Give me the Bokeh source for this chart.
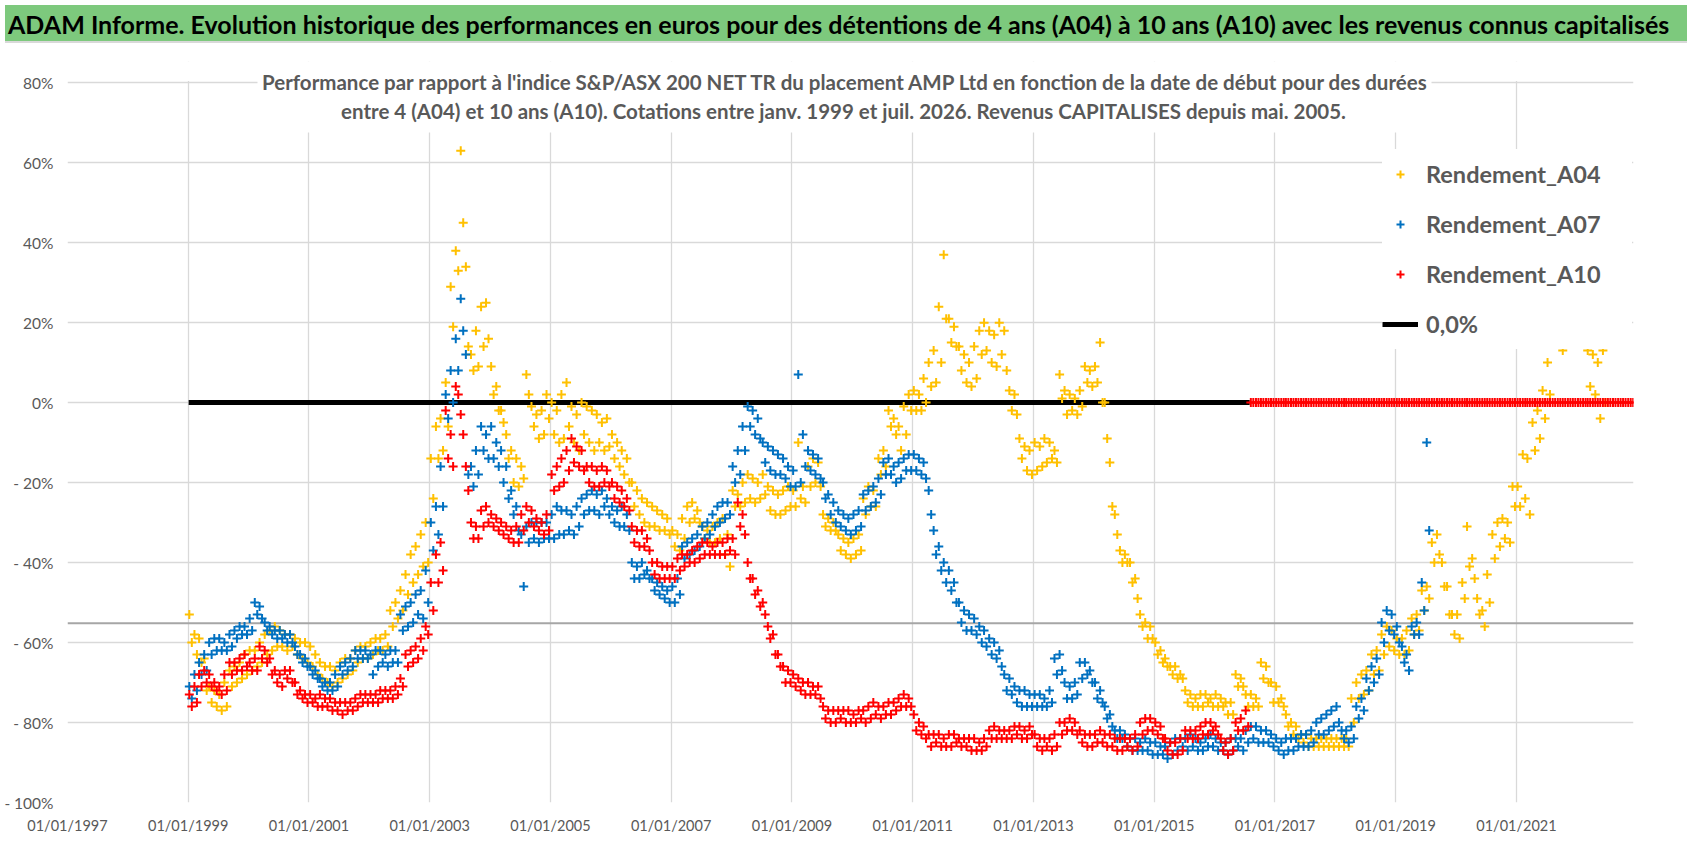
import numpy as np
import pandas as pd
from bokeh.plotting import figure
from bokeh.layouts import column
from bokeh.models import (ColumnDataSource, Range1d, FixedTicker, DatetimeTickFormatter,
                          CustomJSTickFormatter, Legend, LegendItem, Label, BoxAnnotation,
                          Span, Div)
from bokeh.embed import file_html
from bokeh.resources import INLINE

nan = float("nan")

TITLE = ("ADAM Informe. Evolution historique des performances en euros pour des détentions "
         "de 4 ans (A04) à 10 ans (A10) avec les revenus connus capitalisés")
SUBTITLE_1 = ("Performance par rapport à l'indice S&P/ASX 200 NET TR  du placement AMP Ltd "
              "en fonction de la date de début pour des durées")
SUBTITLE_2 = ("entre 4 (A04) et 10 ans (A10).  Cotations entre janv. 1999 et juil. 2026. "
              "Revenus CAPITALISES  depuis mai. 2005.")

# monthly readings of the clouds (upper edge / lower edge), in %
A04_START = "1999-01-01"
a04_hi = [
    -53, -58, -59, -64, -71, -72, -73, -70, -67, -66, -65, -63,   # 1999
    -62, -62, -60, -58, -57, -56, -57, -58, -58, -59, -60, -60,   # 2000
    -61, -63, -65, -66, -66, -67, -65, -64, -64, -62, -61, -61,   # 2001
    -60, -59, -59, -58, -52, -50, -47, -43, -38, -36, -33, -30,   # 2002
    -14, -6, -4, 5, 29, 38, 63, 34, 12, 18, 24, 25,               # 2003
    9, 4, -2, -8, -12, -14, -16, 7, -1, -3, -2, 2,                # 2004
    0, -2, 2, 5, -1, -3, 0, -1, -2, -3, -5, -4,                   # 2005
    -8, -10, -12, -14, -20, -22, -24, -25, -26, -27, -28, -29,    # 2006
    -32, -33, -29, -26, -25, -27, -31, -32, -31, -30, -29, -33,   # 2007
    -22, -23, -20, -18, -19, -20, -18, -21, -22, -23, -22, -21,   # 2008
    -22, -10, -21, -16, -14, -15, -28, -29, -30, -33, -34, -35,   # 2009
    -34, -33, -24, -21, -22, -14, -12, -2, -4, -6, -1, 2,         # 2010
    3, 2, 6, 10, 13, 24, 37, 21, 19, 14, 12, 10,                  # 2011
    14, 18, 20, 18, 17, 20, 18, 3, 2, -9, -11, -12,               # 2012
    -10, -11, -9, -10, -12, 7, 3, 2, 1, 3, 9, 8,                  # 2013
    9, 15, 0, -15, -28, -37, -38, -40, -44, -53, -55, -56,        # 2014
    -60, -62, -64, -66, -66, -68, -72, -73, -74, -73, -73, -74,   # 2015
    -73, -74, -75, -75, -68, -69, -73, -73, -74, -65, -66, -70,   # 2016
    -71, -74, -78, -80, -81, -83, -83, -84, -84, -84, -84, -84,   # 2017
    -84, -84, -84, -74, -70, -68, -67, -63, -62, -58, -56, -57,   # 2018
    -59, -59, -57, -54, -53, -47, -46, -35, -33, -40, -46, -53,   # 2019
    -53, -45, -31, -39, -49, -52, -43, -33, -30, -29, -30, -21,   # 2020
    -21, -13, -14, -5, -2, 3, 10, nan, nan, 13, nan, nan,         # 2021
    nan, nan, 13, 12, 10, 13,                                     # 2022
]
a04_lo = [
    -60, -63, -65, -72, -75, -76, -77, -76, -71, -70, -69, -68,   # 1999
    -67, -66, -65, -63, -62, -61, -61, -62, -61, -63, -64, -65,   # 2000
    -66, -68, -69, -70, -71, -70, -69, -68, -67, -65, -64, -64,   # 2001
    -63, -62, -62, -61, -56, -54, -52, -48, -45, -43, -41, -40,   # 2002
    -24, -14, -12, -6, 19, 33, 45, 14, 8, 9, 14, 16,              # 2003
    2, -2, -5, -14, -20, -21, -19, 2, -6, -9, -8, -4,             # 2004
    -8, -10, -9, -6, -10, -12, -8, -10, -12, -10, -12, -11,       # 2005
    -14, -16, -18, -20, -26, -28, -30, -31, -31, -32, -32, -33,   # 2006
    -36, -37, -34, -30, -29, -30, -34, -35, -35, -34, -38, -41,   # 2007
    -26, -26, -25, -24, -25, -24, -23, -27, -28, -28, -27, -26,   # 2008
    -26, -24, -25, -21, -20, -21, -31, -32, -32, -37, -38, -39,   # 2009
    -38, -37, -28, -26, -26, -18, -16, -6, -8, -12, -8, -2,       # 2010
    -2, -2, 0, 4, 5, 10, 21, 15, 14, 8, 5, 4,                     # 2011
    6, 12, 13, 10, 9, 12, 8, -2, -3, -14, -17, -18,               # 2012
    -17, -16, -15, -14, -15, 1, -3, -2, -3, -1, 5, 4,             # 2013
    5, 0, -9, -26, -33, -40, -40, -45, -49, -56, -59, -59,        # 2014
    -63, -65, -66, -68, -69, -69, -75, -76, -76, -76, -75, -76,   # 2015
    -76, -76, -78, -78, -71, -71, -76, -76, -76, -69, -70, -75,   # 2016
    -75, -76, -81, -83, -84, -85, -86, -86, -86, -86, -86, -86,   # 2017
    -86, -86, -86, -80, -74, -73, -72, -68, -67, -63, -61, -62,   # 2018
    -63, -63, -62, -58, -57, -52, -49, -40, -38, -46, -53, -58,   # 2019
    -59, -49, -41, -44, -53, -56, -50, -39, -36, -34, -35, -26,   # 2020
    -26, -24, -28, -12, -9, -4, 2, nan, nan, nan, nan, nan,       # 2021
    nan, nan, 4, 2, -4, 0,                                        # 2022
]

A07_START = "1999-01-01"
a07_hi = [
    -71, -68, -65, -63, -60, -59, -59, -60, -58, -57, -56, -56,   # 1999
    -54, -50, -51, -55, -56, -57, -57, -58, -58, -61, -63, -64,   # 2000
    -66, -67, -69, -70, -70, -68, -66, -65, -64, -62, -62, -62,   # 2001
    -63, -62, -62, -63, -62, -62, -53, -51, -50, -48, -47, -42,   # 2002
    -30, -26, -16, 2, 8, 16, 26, 12, -16, -12, -6, -8,            # 2003
    -6, -10, -12, -16, -22, -26, -33, -31, -30, -30, -30, -30,    # 2004
    -28, -26, -27, -27, -28, -26, -24, -23, -22, -23, -22, -24,   # 2005
    -26, -27, -26, -28, -40, -41, -40, -42, -44, -45, -46, -47,   # 2006
    -46, -44, -36, -35, -34, -33, -31, -30, -28, -26, -25, -25,   # 2007
    -16, -12, -6, -1, -2, -4, -10, -11, -12, -13, -14, -16,       # 2008
    -17, 7, -8, -12, -13, -14, -20, -23, -25, -27, -28, -29,      # 2009
    -28, -27, -23, -22, -21, -19, -15, -14, -16, -15, -14, -13,   # 2010
    -13, -14, -15, -22, -32, -36, -40, -42, -45, -50, -52, -53,   # 2011
    -54, -56, -57, -59, -60, -62, -68, -69, -71, -72, -72, -73,   # 2012
    -73, -73, -74, -72, -64, -63, -70, -71, -70, -65, -65, -67,   # 2013
    -70, -72, -76, -78, -82, -82, -83, -84, -84, -85, -84, -85,   # 2014
    -85, -86, -86, -85, -84, -84, -84, -83, -84, -85, -84, -83,   # 2015
    -84, -85, -85, -84, -84, -84, -82, -81, -81, -82, -82, -83,   # 2016
    -84, -85, -84, -84, -84, -83, -83, -82, -80, -79, -78, -77,   # 2017
    -76, -82, -82, -81, -76, -74, -69, -66, -64, -55, -52, -53,   # 2018
    -56, -61, -63, -56, -55, -45, -10,                            # 2019
]
a07_lo = [
    -74, -72, -68, -67, -63, -62, -62, -62, -61, -59, -58, -58,   # 1999
    -57, -53, -54, -57, -58, -59, -59, -60, -60, -63, -65, -66,   # 2000
    -68, -69, -71, -72, -72, -71, -68, -67, -66, -64, -64, -64,   # 2001
    -68, -66, -65, -66, -65, -65, -57, -56, -55, -53, -54, -50,   # 2002
    -37, -33, -26, -4, 0, 8, 18, -18, -21, -18, -12, -14,         # 2003
    -14, -16, -20, -24, -28, -32, -46, -35, -34, -35, -34, -34,   # 2004
    -34, -33, -33, -32, -33, -31, -28, -27, -27, -28, -26, -28,   # 2005
    -30, -31, -31, -32, -44, -44, -43, -44, -47, -48, -49, -50,   # 2006
    -50, -48, -39, -38, -37, -36, -34, -33, -31, -30, -29, -28,   # 2007
    -20, -18, -12, -6, -8, -9, -15, -17, -18, -18, -19, -21,      # 2008
    -21, -20, -16, -17, -18, -19, -24, -28, -30, -31, -32, -33,   # 2009
    -32, -31, -27, -26, -25, -23, -18, -18, -20, -19, -17, -17,   # 2010
    -17, -18, -19, -28, -38, -42, -45, -47, -50, -55, -57, -57,   # 2011
    -58, -60, -61, -63, -64, -66, -72, -73, -75, -76, -76, -76,   # 2012
    -76, -76, -76, -75, -68, -67, -74, -74, -73, -69, -68, -70,   # 2013
    -74, -75, -79, -81, -84, -84, -86, -87, -87, -87, -87, -88,   # 2014
    -88, -88, -89, -88, -87, -86, -87, -86, -87, -87, -86, -86,   # 2015
    -87, -87, -88, -87, -86, -87, -85, -84, -85, -85, -85, -86,   # 2016
    -87, -88, -87, -87, -86, -86, -86, -85, -83, -83, -82, -81,   # 2017
    -80, -84, -85, -84, -79, -77, -72, -70, -68, -60, -57, -58,   # 2018
    -60, -65, -67, -58, -58, -52, -32,                            # 2019
]

A10_START = "1999-01-01"
a10_hi = [
    -73, -71, -68, -67, -68, -70, -71, -68, -65, -65, -64, -63,   # 1999
    -65, -64, -61, -62, -64, -67, -68, -67, -67, -70, -72, -73,   # 2000
    -73, -74, -73, -74, -74, -75, -75, -75, -75, -74, -73, -73,   # 2001
    -73, -73, -72, -72, -72, -71, -69, -63, -62, -61, -59, -56,   # 2002
    -45, -38, -35, -2, -8, 4, -3, -16, -30, -31, -27, -26,        # 2003
    -28, -29, -30, -31, -32, -31, -28, -26, -27, -29, -30, -28,   # 2004
    -18, -16, -14, -12, -9, -11, -12, -16, -16, -17, -16, -17,    # 2005
    -20, -21, -22, -24, -31, -32, -32, -34, -40, -40, -41, -41,   # 2006
    -41, -39, -38, -38, -37, -36, -35, -35, -36, -35, -35, -34,   # 2007
    -34, -25, -28, -40, -44, -47, -50, -56, -58, -63, -66, -67,   # 2008
    -68, -69, -70, -70, -71, -71, -76, -77, -77, -77, -77, -77,   # 2009
    -78, -77, -77, -76, -75, -76, -76, -75, -75, -74, -73, -74,   # 2010
    -78, -80, -81, -83, -83, -83, -84, -83, -83, -84, -84, -84,   # 2011
    -84, -85, -84, -82, -81, -82, -82, -82, -81, -81, -82, -81,   # 2012
    -83, -84, -84, -84, -83, -80, -80, -79, -80, -82, -83, -83,   # 2013
    -83, -82, -83, -83, -84, -84, -84, -84, -83, -80, -79, -79,   # 2014
    -80, -81, -84, -85, -85, -84, -82, -82, -82, -81, -80, -80,   # 2015
    -81, -84, -85, -84, -80, -79, -77, 0, 0, 0, 0, 0,             # 2016
    0, 0, 0, 0, 0, 0, 0, 0, 0, 0, 0, 0,                           # 2017
    0, 0, 0, 0, 0, 0, 0, 0, 0, 0, 0, 0,                           # 2018
    0, 0, 0, 0, 0, 0, 0, 0, 0, 0, 0, 0,                           # 2019
    0, 0, 0, 0, 0, 0, 0, 0, 0, 0, 0, 0,                           # 2020
    0, 0, 0, 0, 0, 0, 0, 0, 0, 0, 0, 0,                           # 2021
    0, 0, 0, 0, 0, 0, 0, 0, 0, 0, 0, 0,                           # 2022
]
a10_lo = [
    -76, -75, -71, -70, -71, -72, -73, -72, -68, -67, -67, -66,   # 1999
    -67, -67, -64, -65, -68, -70, -71, -69, -70, -73, -74, -75,   # 2000
    -75, -76, -76, -76, -77, -77, -78, -77, -77, -76, -75, -75,   # 2001
    -75, -75, -74, -74, -74, -73, -71, -66, -65, -64, -62, -58,   # 2002
    -52, -45, -42, -14, -16, 2, -8, -22, -34, -34, -31, -30,      # 2003
    -31, -32, -33, -34, -35, -35, -32, -30, -31, -32, -33, -32,   # 2004
    -22, -21, -20, -17, -15, -16, -17, -20, -21, -21, -20, -21,   # 2005
    -24, -25, -26, -27, -35, -36, -36, -37, -43, -44, -44, -44,   # 2006
    -44, -42, -41, -40, -40, -39, -38, -38, -38, -38, -38, -37,   # 2007
    -38, -31, -33, -44, -48, -51, -53, -59, -63, -66, -70, -70,   # 2008
    -71, -72, -73, -73, -73, -74, -79, -80, -80, -79, -80, -80,   # 2009
    -80, -79, -80, -79, -78, -79, -78, -78, -77, -76, -76, -76,   # 2010
    -82, -83, -84, -86, -85, -86, -86, -86, -85, -86, -86, -87,   # 2011
    -87, -87, -86, -84, -84, -84, -84, -84, -83, -84, -84, -83,   # 2012
    -86, -87, -86, -87, -86, -83, -82, -82, -83, -85, -86, -86,   # 2013
    -85, -85, -86, -86, -87, -87, -86, -87, -86, -83, -82, -82,   # 2014
    -83, -84, -87, -88, -88, -87, -84, -84, -84, -83, -83, -82,   # 2015
    -83, -87, -88, -87, -82, -82, -81, 0, 0, 0, 0, 0,             # 2016
    0, 0, 0, 0, 0, 0, 0, 0, 0, 0, 0, 0,                           # 2017
    0, 0, 0, 0, 0, 0, 0, 0, 0, 0, 0, 0,                           # 2018
    0, 0, 0, 0, 0, 0, 0, 0, 0, 0, 0, 0,                           # 2019
    0, 0, 0, 0, 0, 0, 0, 0, 0, 0, 0, 0,                           # 2020
    0, 0, 0, 0, 0, 0, 0, 0, 0, 0, 0, 0,                           # 2021
    0, 0, 0, 0, 0, 0, 0, 0, 0, 0, 0, 0,                           # 2022
]

# the "0,0%" series (black line)
zero_dates = ["1999-01-04", "2016-08-01"]
zero_vals = [0.0, 0.0]

Y_TICKS = [-100, -80, -60, -40, -20, 0, 20, 40, 60, 80]
X_TICK_YEARS = [1997, 1999, 2001, 2003, 2005, 2007, 2009, 2011, 2013, 2015, 2017, 2019, 2021]
X_START, X_END = "1997-01-01", "2022-12-10"
Y_MIN, Y_MAX, Y_TOP = -100, 80, 85.3     # Y_TOP leaves room for the chart title
ARTIFACT_LEVEL = -55.2

YELLOW, BLUE, RED = "#FFC000", "#0070C0", "#FF0000"
GREY_TXT = "#595959"
FONT = "Lato"


def cloud(start, hi, lo):
    months = pd.date_range(start, periods=len(hi), freq="MS")
    x = np.concatenate([(months + pd.Timedelta(days=7)).values,
                        (months + pd.Timedelta(days=22)).values])
    y = np.array(list(hi) + list(lo), dtype=float)
    return ColumnDataSource(data=dict(x=x, y=y))


src04 = cloud(A04_START, a04_hi, a04_lo)
src07 = cloud(A07_START, a07_hi, a07_lo)
src10 = cloud(A10_START, a10_hi, a10_lo)
src0 = ColumnDataSource(data=dict(x=pd.to_datetime(zero_dates).values, y=zero_vals))

W, H = 1682, 794
BL, BR, BT, BB = 67, 49, 13, 40
p = figure(width=W, height=H, x_axis_type="datetime",
           x_range=Range1d(pd.Timestamp(X_START), pd.Timestamp(X_END)),
           y_range=Range1d(Y_MIN, Y_TOP),
           output_backend="svg", toolbar_location=None,
           min_border_left=BL, min_border_right=BR, min_border_top=BT, min_border_bottom=BB,
           background_fill_color="white", border_fill_color="white", outline_line_color=None)

# axes
p.xaxis.ticker = FixedTicker(ticks=[pd.Timestamp(f"{y}-01-01").value // 10**6 for y in X_TICK_YEARS])
fmt = "%d/%m/%Y"
p.xaxis.formatter = DatetimeTickFormatter(years=fmt, months=fmt, days=fmt, hours=fmt,
                                          minutes=fmt, seconds=fmt, milliseconds=fmt)
p.yaxis.ticker = FixedTicker(ticks=Y_TICKS)
p.yaxis.formatter = CustomJSTickFormatter(
    code="return tick < 0 ? '- ' + Math.abs(tick) + '%' : tick + '%'")
for ax in (p.xaxis, p.yaxis):
    ax.axis_line_color = None
    ax.major_tick_line_color = None
    ax.minor_tick_line_color = None
    ax.major_tick_out = 0
    ax.major_tick_in = 0
    ax.major_label_text_color = GREY_TXT
    ax.major_label_text_font = FONT
p.xaxis.major_label_text_font_size = "14.5px"
p.yaxis.major_label_text_font_size = "15.5px"
p.xaxis.major_label_standoff = 14
p.yaxis.major_label_standoff = 14
p.xgrid.grid_line_color = "#d9d9d9"
p.ygrid.grid_line_color = "#d9d9d9"
p.xgrid.grid_line_width = 1.3
p.ygrid.grid_line_width = 1.3

p.add_layout(Span(location=ARTIFACT_LEVEL, dimension="width", line_color="#a6a6a6",
                  line_width=2, level="underlay"))

# series
r0 = p.line("x", "y", source=src0, line_color="black", line_width=5)
r04 = p.scatter("x", "y", source=src04, marker="cross", size=9, line_color=YELLOW, line_width=2)
r07 = p.scatter("x", "y", source=src07, marker="cross", size=9, line_color=BLUE, line_width=2)
r10 = p.scatter("x", "y", source=src10, marker="cross", size=9, line_color=RED, line_width=2)

# hide the grid above the 80% line, then the chart title box
frame_w, frame_h = W - BL - BR, H - BT - BB
p.add_layout(BoxAnnotation(left=0, right=frame_w, top=frame_h, bottom=Y_MAX + 0.4,
                           left_units="screen", right_units="screen", top_units="screen",
                           fill_color="white", fill_alpha=1, line_color=None))
p.add_layout(BoxAnnotation(left=190, right=1364, top=740, bottom=670,
                           left_units="screen", right_units="screen",
                           top_units="screen", bottom_units="screen",
                           fill_color="white", fill_alpha=1, line_color=None))
for txt, yy in ((SUBTITLE_1, 721), (SUBTITLE_2, 692)):
    p.add_layout(Label(x=781, y=yy, x_units="screen", y_units="screen", text=txt,
                       text_align="center", text_baseline="middle", text_font=FONT,
                       text_font_style="bold", text_font_size="20.5px", text_color=GREY_TXT))

legend = Legend(items=[LegendItem(label="Rendement_A04", renderers=[r04]),
                       LegendItem(label="Rendement_A07", renderers=[r07]),
                       LegendItem(label="Rendement_A10", renderers=[r10]),
                       LegendItem(label="0,0%", renderers=[r0])],
                location=(1315, 453), padding=0, margin=0, spacing=0,
                glyph_width=36, glyph_height=20, label_height=50, label_width=206,
                label_standoff=8, label_text_font=FONT, label_text_font_style="bold",
                label_text_font_size="23.5px", label_text_color=GREY_TXT,
                background_fill_color="white", background_fill_alpha=1,
                border_line_color=None)
p.add_layout(legend)

header = Div(text=('<div style="background:#7dc97d;width:1682px;height:38px;line-height:38px;'
                   'font-family:Lato;font-weight:bold;font-size:25px;color:#000;'
                   'padding-left:3px;white-space:nowrap;overflow:hidden;'
                   'border-bottom:2px solid #d9d9d9;box-sizing:border-box;">'
                   + TITLE + '</div>'),
             width=W, height=38)

layout = column(header, p)
open("out.html", "w", encoding="utf-8").write(file_html(layout, INLINE))
